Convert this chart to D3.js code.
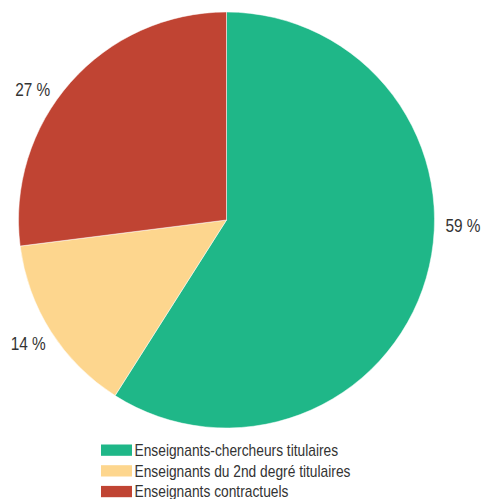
<!DOCTYPE html>
<html>
<head>
<meta charset="utf-8">
<script src="https://cdn.jsdelivr.net/npm/d3@7/dist/d3.min.js"></script>
<style>
  html, body { margin: 0; padding: 0; background: #fff; }
  svg { display: block; }
  text { font-family: "Liberation Sans", Arial, Helvetica, sans-serif; fill: #333; }
</style>
</head>
<body>
<svg id="chart" width="481" height="499"></svg>
<script>
// Répartition des enseignants par statut (en %)
const categories = [
  "Enseignants-chercheurs titulaires",
  "Enseignants du 2nd degré titulaires",
  "Enseignants contractuels"
];
const values = [59, 14, 27];
const labels = ["59 %", "14 %", "27 %"];
const colors = ["#1fb788", "#fdd68e", "#c04433"];

const svg = d3.select("#chart");
const cx = 226.5, cy = 220, radius = 208;
const narrow = 0.82;   // police étroite simulée

const pie = d3.pie().sort(null).value(d => d)(values);
const arc = d3.arc().innerRadius(0).outerRadius(radius);

const g = svg.append("g").attr("transform", `translate(${cx},${cy})`);

g.selectAll("path.slice")
  .data(pie)
  .join("path")
  .attr("class", "slice")
  .attr("d", arc)
  .attr("fill", (d, i) => colors[i])
  .attr("stroke", "#fff")
  .attr("stroke-width", 0.5);

// Étiquettes de pourcentage à l'extérieur du disque
const labelRadius = radius + 11;
const nudge = [-14.6, -2, -5].map(v => v * Math.PI / 180);
g.selectAll("g.pct")
  .data(pie)
  .join("g")
  .attr("class", "pct")
  .attr("transform", d => {
    const a = (d.startAngle + d.endAngle) / 2 + nudge[d.index];
    return `translate(${Math.sin(a) * labelRadius},${-Math.cos(a) * labelRadius}) scale(0.88,1)`;
  })
  .append("text")
  .attr("text-anchor", d => {
    const a = (d.startAngle + d.endAngle) / 2 + nudge[d.index];
    return Math.sin(a) >= 0 ? "start" : "end";
  })
  .attr("dy", "0.35em")
  .attr("font-size", 17.5)
  .text((d, i) => labels[i]);

// Légende
const legend = svg.append("g").attr("transform", "translate(101,444.5)");
const row = legend.selectAll("g.item")
  .data(categories)
  .join("g")
  .attr("class", "item")
  .attr("transform", (d, i) => `translate(0,${i * 20.7})`);
row.append("rect")
  .attr("width", 31)
  .attr("height", 11.3)
  .attr("fill", (d, i) => colors[i]);
row.append("text")
  .attr("transform", `translate(33.5,11.5) scale(${narrow},1)`)
  .attr("font-size", 16.8)
  .text(d => d);
</script>
</body>
</html>
